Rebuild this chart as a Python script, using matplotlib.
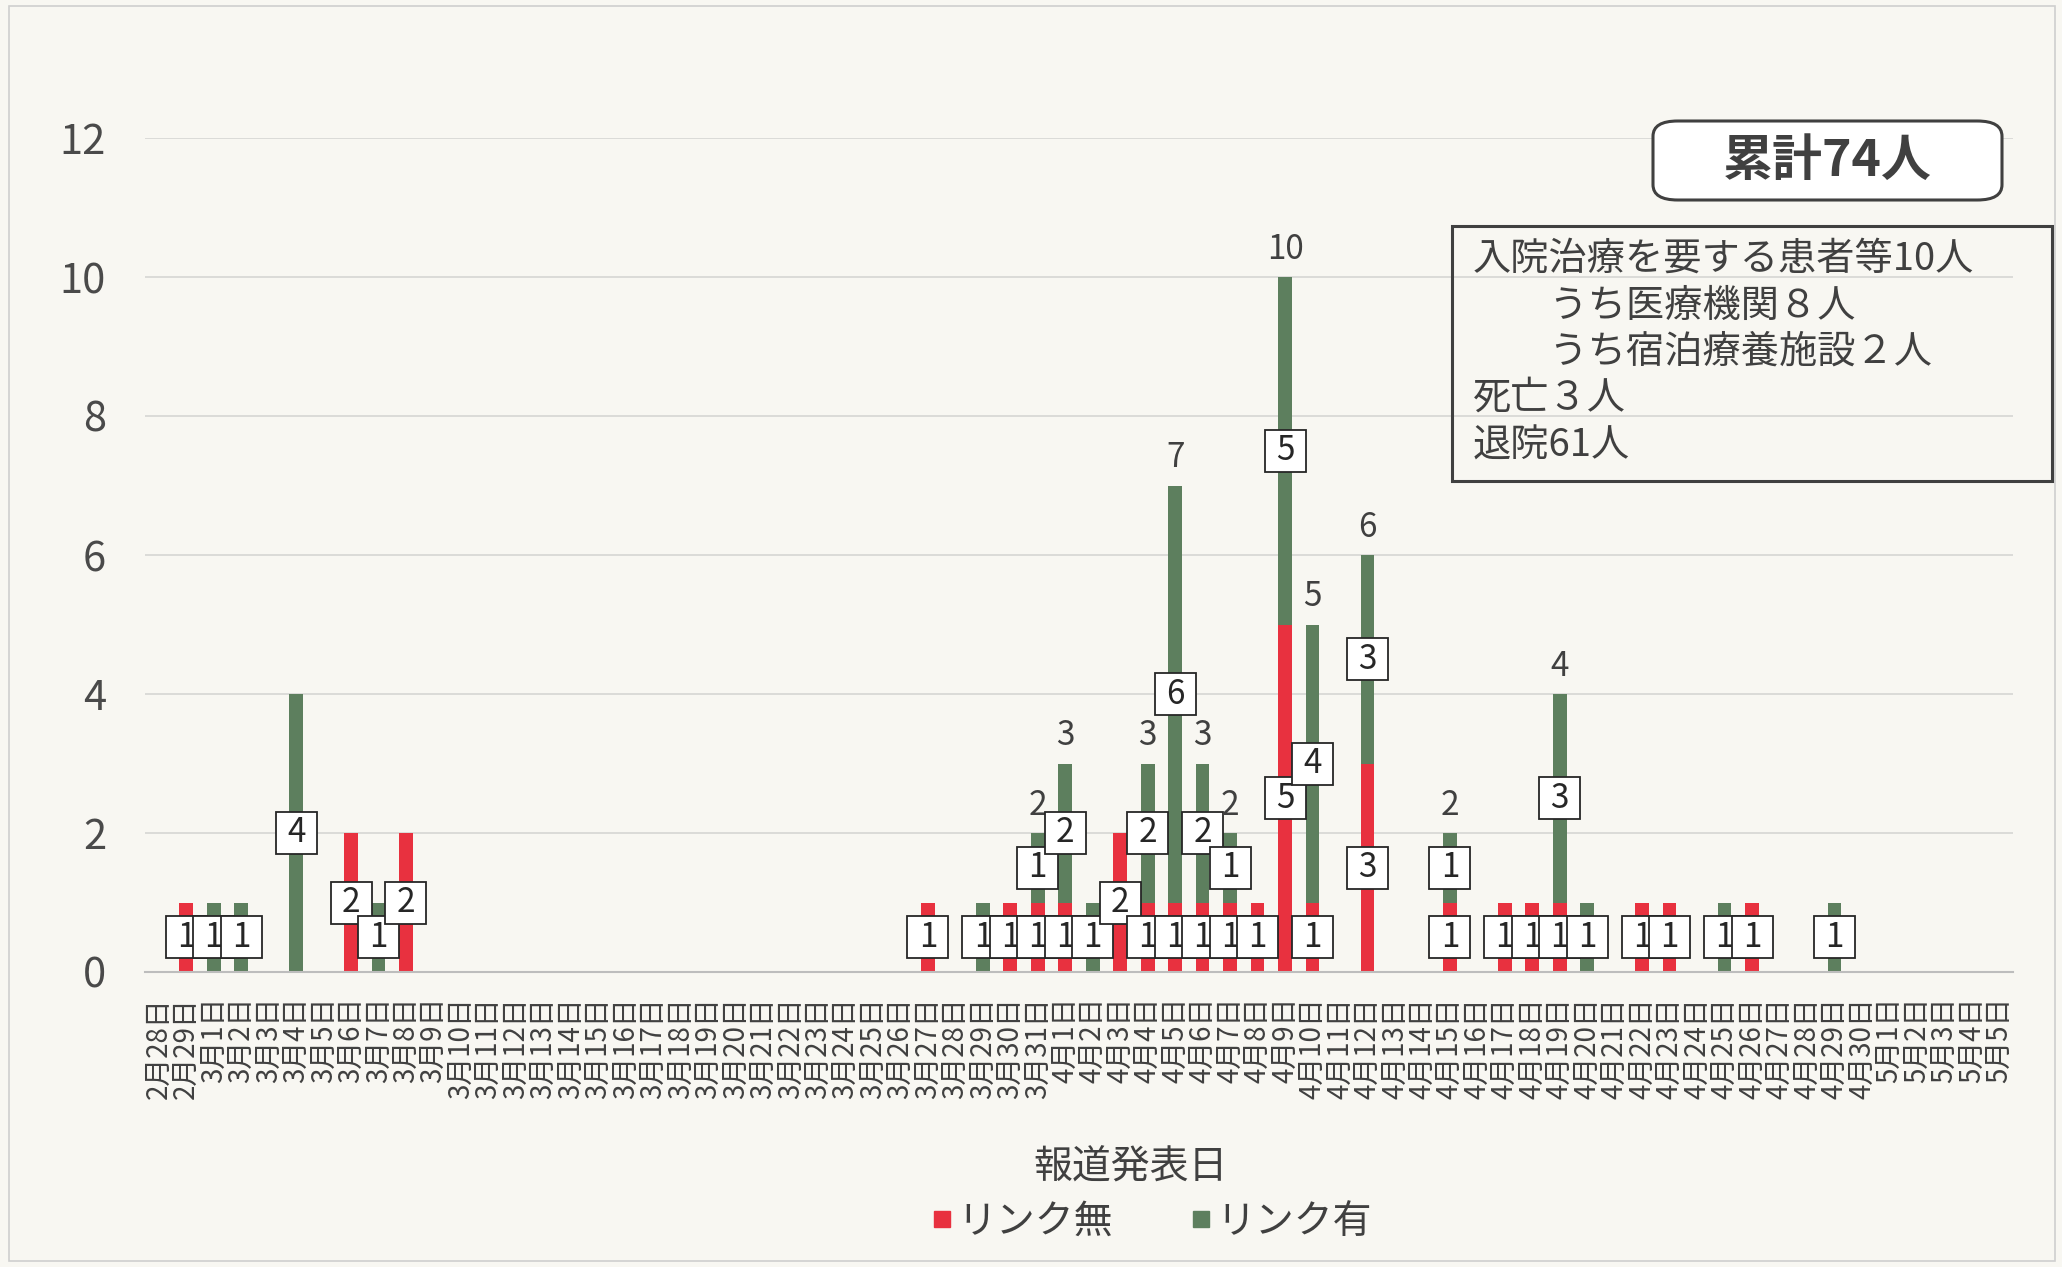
import matplotlib
matplotlib.use("Agg")
import matplotlib.pyplot as plt
from matplotlib.patches import Rectangle, FancyBboxPatch
from matplotlib.lines import Line2D

plt.rcParams['font.family'] = ['Noto Sans CJK JP', 'DejaVu Sans']

labels = [
    "2月28日", "2月29日",
    "3月1日", "3月2日", "3月3日", "3月4日", "3月5日", "3月6日", "3月7日", "3月8日", "3月9日", "3月10日",
    "3月11日", "3月12日", "3月13日", "3月14日", "3月15日", "3月16日", "3月17日", "3月18日", "3月19日", "3月20日",
    "3月21日", "3月22日", "3月23日", "3月24日", "3月25日", "3月26日", "3月27日", "3月28日", "3月29日", "3月30日",
    "3月31日",
    "4月1日", "4月2日", "4月3日", "4月4日", "4月5日", "4月6日", "4月7日", "4月8日", "4月9日", "4月10日",
    "4月11日", "4月12日", "4月13日", "4月14日", "4月15日", "4月16日", "4月17日", "4月18日", "4月19日", "4月20日",
    "4月21日", "4月22日", "4月23日", "4月24日", "4月25日", "4月26日", "4月27日", "4月28日", "4月29日", "4月30日",
    "5月1日", "5月2日", "5月3日", "5月4日", "5月5日",
]

# リンク無 (no link)
red = [0, 1, 0, 0, 0, 0, 0, 2, 0, 2,
       0, 0, 0, 0, 0, 0, 0, 0, 0, 0,
       0, 0, 0, 0, 0, 0, 0, 0, 1, 0,
       0, 1, 1, 1, 0, 2, 1, 1, 1, 1,
       1, 5, 1, 0, 3, 0, 0, 1, 0, 1,
       1, 1, 0, 0, 1, 1, 0, 0, 1, 0,
       0, 0, 0, 0, 0, 0, 0, 0]

# リンク有 (linked)
green = [0, 0, 1, 1, 0, 4, 0, 0, 1, 0,
         0, 0, 0, 0, 0, 0, 0, 0, 0, 0,
         0, 0, 0, 0, 0, 0, 0, 0, 0, 0,
         1, 0, 1, 2, 1, 0, 2, 6, 2, 1,
         0, 5, 4, 0, 3, 0, 0, 1, 0, 0,
         0, 3, 1, 0, 0, 0, 0, 1, 0, 0,
         0, 1, 0, 0, 0, 0, 0, 0]

series_names = ["リンク無", "リンク有"]
info_lines = ["入院治療を要する患者等10人",
              "　　うち医療機関８人",
              "　　うち宿泊療養施設２人",
              "死亡３人",
              "退院61人"]
total_text = "累計74人"
xlabel = "報道発表日"

RED = "#E8313F"
GREEN = "#5D7F5E"
BG = "#F8F7F2"
TXT = "#404040"
DARK = "#262626"

W, H = 2062, 1267
fig = plt.figure(figsize=(W / 100, H / 100), dpi=100, facecolor=BG)

def fx(px):
    return px / W

def fy(py):
    return 1 - py / H

ax_l, ax_r, ax_t, ax_b = 145, 2013, 138, 972
ax = fig.add_axes([fx(ax_l), fy(ax_b), fx(ax_r) - fx(ax_l), fy(ax_t) - fy(ax_b)])
ax.set_facecolor("none")

n = len(labels)
x = list(range(n))
ax.bar(x, red, width=0.5, color=RED, zorder=2)
ax.bar(x, green, width=0.5, bottom=red, color=GREEN, zorder=2)

ax.set_xlim(-0.5, n - 0.5)
ax.set_ylim(0, 12)
ax.set_yticks(range(0, 13, 2))
ax.yaxis.grid(True, color="#D8D8D6", linewidth=1.3, zorder=0)
ax.set_axisbelow(True)
for s in ["top", "right", "left"]:
    ax.spines[s].set_visible(False)
ax.spines["bottom"].set_color("#BDBDBD")
ax.spines["bottom"].set_linewidth(1.5)
ax.tick_params(axis="y", length=0, labelsize=30, labelcolor="#4a4a4a", pad=28)
ax.tick_params(axis="x", length=0, pad=18)
ax.set_xticks(x)
ax.set_xticklabels(labels, rotation=90, fontsize=20, color=TXT, va="top", ha="center")
ax.set_yticklabels([str(v) for v in range(0, 13, 2)])

# label box size in pixels -> data units
px_per_x = (ax_r - ax_l) / n
px_per_y = (ax_b - ax_t) / 12.0
bw = 41 / px_per_x
bh = 42 / px_per_y

z = 5
def label_box(xc, yc, val):
    global z
    ax.add_patch(Rectangle((xc - bw / 2, yc - bh / 2), bw, bh, facecolor="white",
                           edgecolor=DARK, linewidth=1.3, zorder=z))
    ax.text(xc, yc, str(val), ha="center", va="center", fontsize=24,
            color=DARK, zorder=z + 0.5)
    z += 1

for i in x:
    r, g = red[i], green[i]
    if r > 0:
        label_box(i, r / 2, r)
    if g > 0:
        label_box(i, r + g / 2, g)
    if r > 0 and g > 0:
        ax.annotate(str(r + g), xy=(i, r + g), xytext=(0, 20), textcoords="offset points",
                    ha="center", va="center", fontsize=24, color=TXT, zorder=z)

# x-axis title
fig.text(fx(1131), fy(1168), xlabel, ha="center", va="center", fontsize=28, color=TXT)

# legend
handles = [Line2D([0], [0], marker="s", linestyle="none", markersize=11, color=RED),
           Line2D([0], [0], marker="s", linestyle="none", markersize=11, color=GREEN)]
leg = fig.legend(handles, series_names, loc="center", bbox_to_anchor=(fx(1152), fy(1222)),
                 ncol=2, frameon=False, fontsize=28, handlelength=0.5, handletextpad=0.15,
                 columnspacing=2.0, labelcolor=TXT)

# 累計 box
fig.patches.append(FancyBboxPatch((fx(1653), fy(200)), fx(2002) - fx(1653), fy(121) - fy(200),
                                  boxstyle="round,pad=0,rounding_size=0.012",
                                  transform=fig.transFigure, facecolor="white",
                                  edgecolor=TXT, linewidth=2.2, zorder=10))
fig.text(fx(1827), fy(161), total_text, ha="center", va="center", fontsize=36,
         fontweight="bold", color=TXT, zorder=11)

# info box
fig.patches.append(Rectangle((fx(1452), fy(481)), fx(2052) - fx(1452), fy(226) - fy(481),
                             transform=fig.transFigure, facecolor="none",
                             edgecolor=TXT, linewidth=2.2, zorder=10))
line_y = [259, 306, 352, 398, 446]
for t, yy in zip(info_lines, line_y):
    fig.text(fx(1473), fy(yy), t, ha="left", va="center", fontsize=27.5, color=TXT, zorder=11)

# outer chart border
fig.patches.append(Rectangle((fx(9), fy(1261)), fx(2055) - fx(9), fy(6) - fy(1261),
                             transform=fig.transFigure, facecolor="none",
                             edgecolor="#CFCFCF", linewidth=1.2, zorder=1))

fig.savefig("out.png", dpi=100, facecolor=BG)
